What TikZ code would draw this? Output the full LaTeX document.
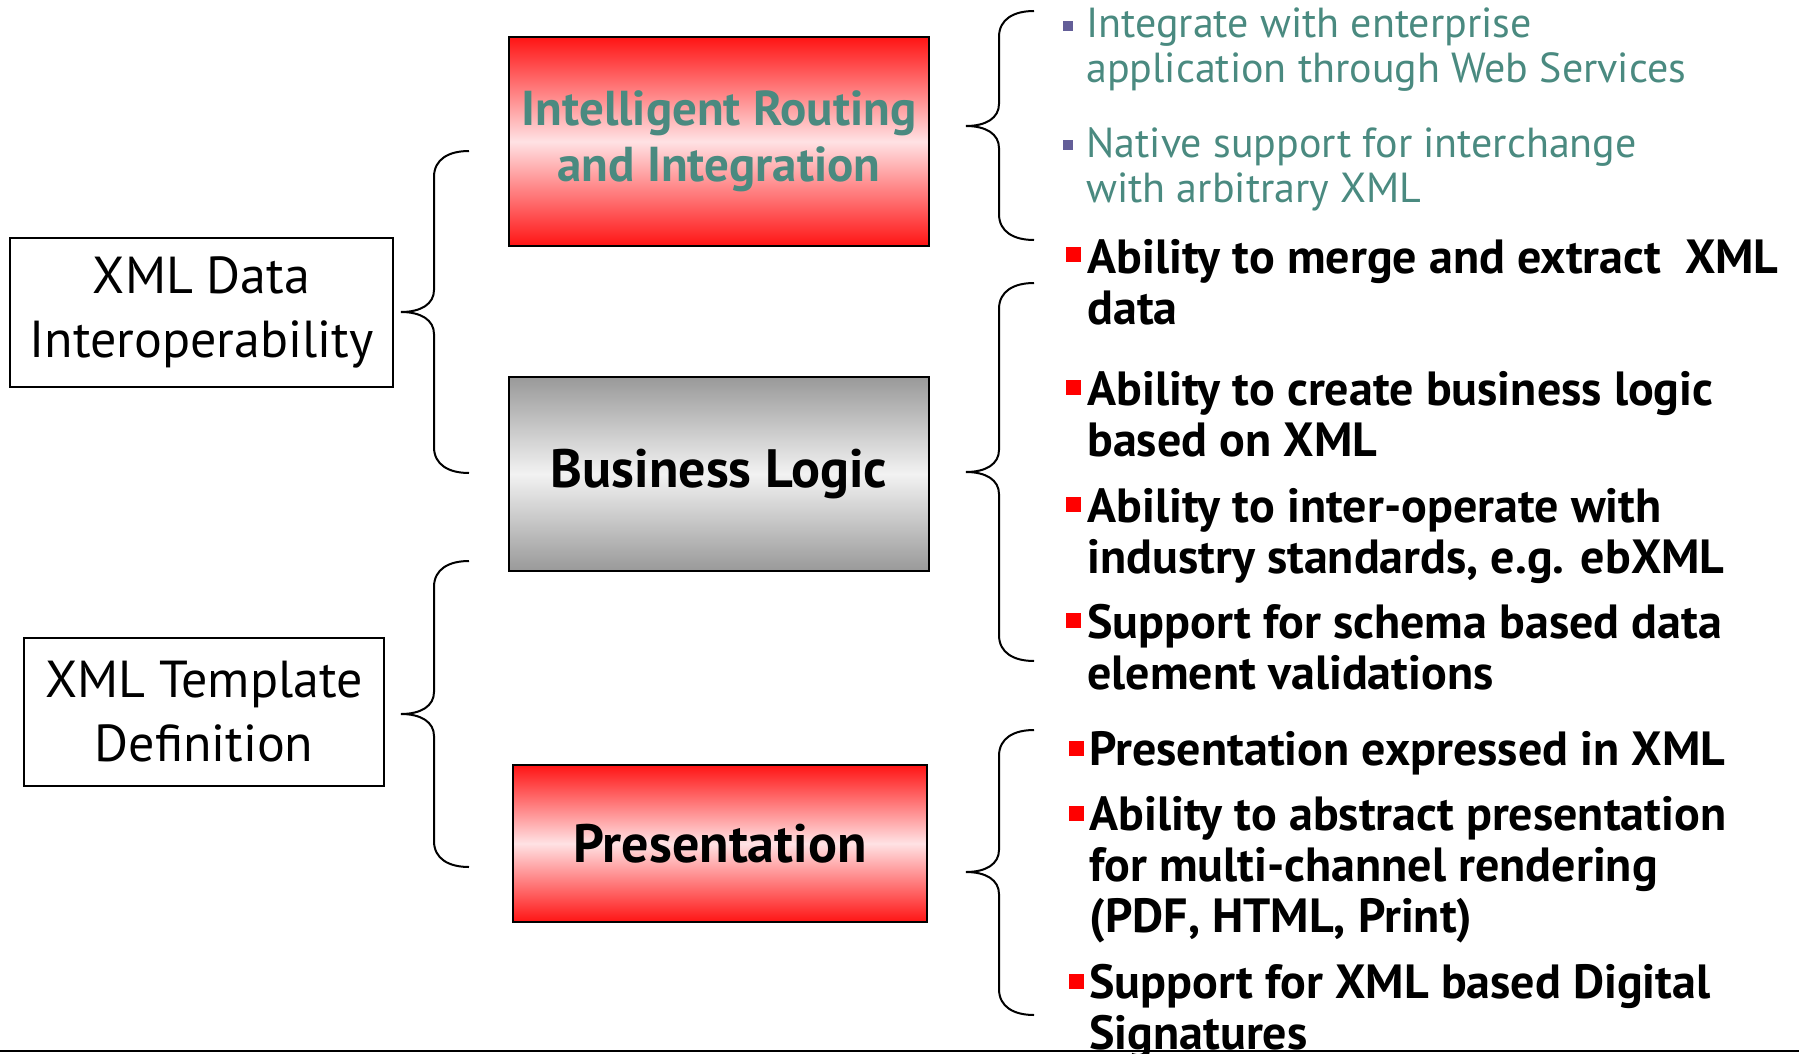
\documentclass[tikz,border=0pt]{standalone}
\usepackage{fontspec}
\setmainfont{PT Sans}

\definecolor{tealtxt}{HTML}{4A8A80}
\definecolor{purplesq}{HTML}{635E98}
\definecolor{boxred}{HTML}{FF1414}
\definecolor{boxpink}{HTML}{FFE2E4}
\definecolor{boxgray}{HTML}{999999}
\definecolor{boxlight}{HTML}{F2F2F2}

\tikzset{
  topic/.style={draw, line width=1pt, align=center, inner sep=0pt, font=\fontsize{26}{32}\selectfont},
  redbox/.style={draw, line width=1pt, top color=boxred, bottom color=boxred, middle color=boxpink, align=center, inner sep=0pt, font=\bfseries\fontsize{27}{28}\selectfont},
  graybox/.style={redbox, top color=boxgray, bottom color=boxgray, middle color=boxlight},
  point/.style={anchor=base west, inner sep=0pt, align=left, font=\bfseries\fontsize{24}{25.5}\selectfont},
  subpoint/.style={point, text=tealtxt, font=\fontsize{21}{22.5}\selectfont},
  redsq/.style={fill=red},
  bluesq/.style={fill=purplesq},
  curl/.style={line width=1pt},
}

% tip x, top y, tip y, bottom y
\newcommand{\bracegroup}[4]{%
  \draw[curl] ({#1+68},#2) .. controls ({#1+48},#2) and ({#1+33},{#2+8}) .. ({#1+33},{#2+26})
    -- ({#1+33},{#3-22}) .. controls ({#1+33},{#3-8}) and ({#1+20},#3) .. (#1,#3)
    .. controls ({#1+20},#3) and ({#1+33},{#3+8}) .. ({#1+33},{#3+22})
    -- ({#1+33},{#4-26}) .. controls ({#1+33},{#4-8}) and ({#1+48},#4) .. ({#1+68},#4);
}

\begin{document}
\begin{tikzpicture}[x=0.5pt, y=-0.5pt]
  \useasboundingbox (0,0) rectangle (1799,1054);

  % left column
  \node[topic, minimum width=191.5pt, minimum height=74.5pt] (xdi) at (201.5,312.5) {XML Data\\Interoperability};
  \node[topic, minimum width=180pt, minimum height=74pt] (xtd) at (204,712) {XML Template\\Definition};

  % middle column
  \node[redbox, text=tealtxt, font=\bfseries\fontsize{24.5}{28}\selectfont, minimum width=210pt, minimum height=104.5pt] (route) at (719,141.5) {Intelligent Routing\\and Integration};
  \node[graybox, minimum width=210pt, minimum height=97pt] (logic) at (719,474) {Business Logic};
  \node[redbox, minimum width=207pt, minimum height=78.5pt] (pres) at (720,843.5) {Presentation};

  % braces
  \bracegroup{401}{151}{312}{473}
  \bracegroup{401}{561}{714}{867}
  \bracegroup{966}{11}{126}{240}
  \bracegroup{966}{283}{472}{661}
  \bracegroup{966}{730}{872}{1015}

  % routing points (anchored at the last line)
  \fill[bluesq] (1063,21) rectangle ++(10,10);
  \node[subpoint] (integ) at (1086,83) {Integrate with enterprise\\application through Web Services};
  \fill[bluesq] (1063,140) rectangle ++(10,10);
  \node[subpoint] (native) at (1086,202) {Native support for interchange\\with arbitrary XML};

  % logic points
  \fill[redsq] (1066,247) rectangle ++(15,15);
  \node[point] (merge) at (1087,324) {Ability to merge and extract\ \ XML\\data};
  \fill[redsq] (1066,380) rectangle ++(15,15);
  \node[point] (create) at (1087,456) {Ability to create business logic\\based on XML};
  \fill[redsq] (1066,497) rectangle ++(15,15);
  \node[point] (interop) at (1087,573) {Ability to inter-operate with\\industry standards, e.g. ebXML};
  \fill[redsq] (1066,613) rectangle ++(15,15);
  \node[point] (schema) at (1087,689) {Support for schema based data\\element validations};

  % presentation points
  \fill[redsq] (1069,741) rectangle ++(15,15);
  \node[point] (expr) at (1089,765) {Presentation expressed in XML};
  \fill[redsq] (1069,806) rectangle ++(15,15);
  \node[point] (abstr) at (1089,932) {Ability to abstract presentation\\for multi-channel rendering\\(PDF, HTML, Print)};
  \fill[redsq] (1069,974) rectangle ++(15,15);
  \node[point] (sign) at (1089,1049) {Support for XML based Digital\\Signatures};

  \draw[line width=1.2pt] (0,1051) -- (1799,1051);
\end{tikzpicture}
\end{document}
